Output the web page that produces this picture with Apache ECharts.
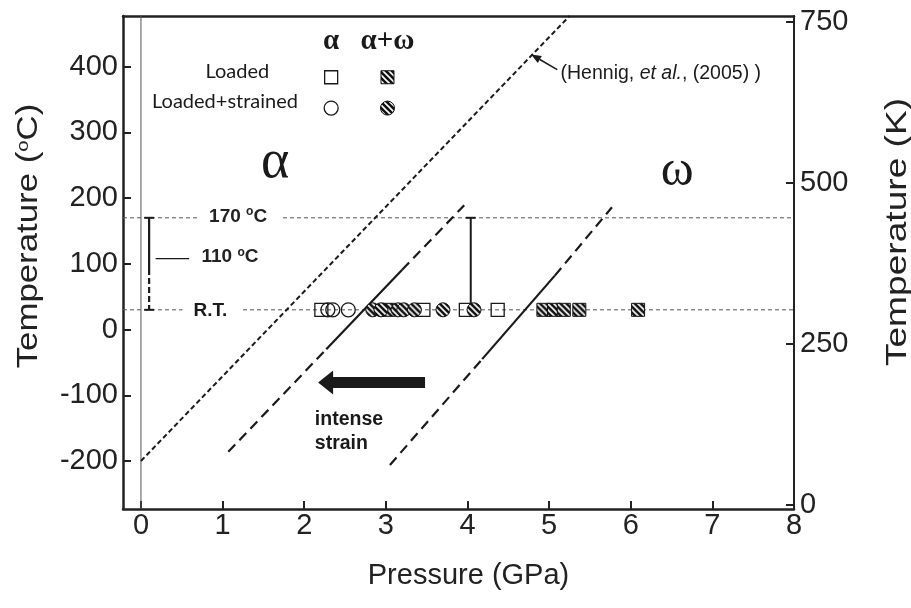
<!DOCTYPE html>
<html>
<head>
<meta charset="utf-8">
<script src="https://cdn.jsdelivr.net/npm/echarts@6/dist/echarts.min.js"></script>
<style>
  html, body { margin: 0; padding: 0; background: #fff; }
  #main { width: 911px; height: 608px; }
</style>
</head>
<body>
<div id="main"></div>
<script>
// axis ticks
var pressureTicks = [0, 1, 2, 3, 4, 5, 6, 7, 8]
var celsiusTicks = [-200, -100, 0, 100, 200, 300, 400]
var kelvinTicks = [0, 250, 500, 750]

var roomTemp = 30
var upperTemp = 170
var midTemp = 108

// measured pressures at R.T. (GPa)
var alphaLoaded = [2.21, 3.46, 3.98, 4.37]
var alphaStrained = [2.29, 2.35, 2.54]
var mixLoaded = [3.03, 4.93, 5.06, 5.18, 5.37, 6.09]
var mixStrained = [2.84, 2.94, 3.15, 3.22, 3.35, 3.70, 4.08]

// phase boundaries [P, T]
var hennigLine = [[0, -200], [5.25, 477]]
var midLow = [[1.07, -186], [2.27, -30]]
var midSolid = [[2.27, -30], [3.2, 91]]
var midHigh = [[3.2, 91], [3.96, 189]]
var rightLow = [[3.05, -206], [4.18, -45]]
var rightSolid = [[4.18, -45], [5.07, 82]]
var rightHigh = [[5.07, 82], [5.77, 186]]

// reference lines / bars
var zeroLine = [[0, -273], [0, 477]]
var upperLineA = [[-0.22, upperTemp], [0.71, upperTemp]]
var upperLineB = [[1.74, upperTemp], [8, upperTemp]]
var rtLineA = [[-0.22, roomTemp], [0.51, roomTemp]]
var rtLineB = [[1.25, roomTemp], [8, roomTemp]]
var leftBarSolid = [[0.1, upperTemp], [0.1, 92]]
var leftBarDash = [[0.1, 92], [0.1, roomTemp]]
var leftCapTop = [[0.04, upperTemp], [0.16, upperTemp]]
var leftCapBottom = [[0.04, roomTemp], [0.16, roomTemp]]
var pointer110 = [[0.18, midTemp], [0.59, midTemp]]
var rightBar = [[4.04, roomTemp], [4.04, upperTemp]]
var rightCap = [[3.98, upperTemp], [4.1, upperTemp]]

var myChart = echarts.init(document.getElementById('main'))

// hatched fill (black with white diagonal stripes)
function hatchCanvas() {
  var n = 6
  var c = document.createElement('canvas')
  c.width = n
  c.height = n
  var ctx = c.getContext('2d')
  ctx.fillStyle = '#111'
  ctx.fillRect(0, 0, n, n)
  ctx.strokeStyle = '#fff'
  ctx.lineWidth = 1.6
  ctx.beginPath()
  ctx.moveTo(-1, -1); ctx.lineTo(n + 1, n + 1)
  ctx.moveTo(-1, n - 1); ctx.lineTo(1, n + 1)
  ctx.moveTo(n - 1, -1); ctx.lineTo(n + 1, 1)
  ctx.stroke()
  return c
}
var hatchImg = hatchCanvas()
// symbols are drawn on a 2x2 path and scaled, so undo that scale
function hatch(size) {
  var s = size ? 2 / size : 1
  return { image: hatchImg, repeat: 'repeat', scaleX: s, scaleY: s }
}

function seg(data, type, width, color) {
  return {
    type: 'line',
    data: data,
    symbol: 'none',
    silent: true,
    z: 3,
    lineStyle: { type: type, width: width, color: color || '#1a1a1a' },
  }
}

function pts(arr) {
  return arr.map(function (p) { return [p, roomTemp] })
}

var font = 'Liberation Sans, Arial, sans-serif'
var serif = 'Liberation Serif, Times New Roman, serif'
var sqSize = 13
var ciSize = 14

var option = {
  animation: false,
  backgroundColor: '#fff',
  grid: { left: 123, right: 117, top: 16, bottom: 99 },
  xAxis: [
    {
      type: 'value',
      min: -0.22,
      max: 8,
      position: 'bottom',
      name: 'Pressure (GPa)',
      nameLocation: 'middle',
      nameGap: 52,
      nameTextStyle: { fontSize: 29, color: '#222', fontFamily: font, padding: [0, 0, 0, 20] },
      axisLine: { onZero: false, lineStyle: { color: '#222', width: 2.5 } },
      axisTick: { inside: true, length: 8, customValues: pressureTicks, lineStyle: { color: '#222', width: 2 } },
      axisLabel: { customValues: pressureTicks, fontSize: 29, color: '#222', margin: 2, fontFamily: font },
      splitLine: { show: false },
    },
    {
      type: 'value',
      min: -0.22,
      max: 8,
      position: 'top',
      axisLine: { onZero: false, lineStyle: { color: '#222', width: 2.5 } },
      axisTick: { show: false },
      axisLabel: { show: false },
      splitLine: { show: false },
    },
  ],
  yAxis: [
    {
      type: 'value',
      min: -273,
      max: 477,
      position: 'left',
      axisLine: { onZero: false, lineStyle: { color: '#222', width: 2.5 } },
      axisTick: { inside: true, length: 8, customValues: celsiusTicks, lineStyle: { color: '#222', width: 2 } },
      axisLabel: { customValues: celsiusTicks, fontSize: 29, color: '#222', margin: 5, fontFamily: font },
      splitLine: { show: false },
    },
    {
      type: 'value',
      min: -6,
      max: 759,
      position: 'right',
      axisLine: { onZero: false, lineStyle: { color: '#222', width: 2 } },
      axisTick: { inside: true, length: 8, customValues: kelvinTicks, lineStyle: { color: '#222', width: 2 } },
      axisLabel: { customValues: kelvinTicks, fontSize: 29, color: '#222', margin: 6, fontFamily: font },
      splitLine: { show: false },
    },
  ],
  series: [
    seg(zeroLine, 'solid', 1, '#555'),
    seg(upperLineA, [4, 3], 1, '#555'),
    seg(upperLineB, [4, 3], 1, '#555'),
    seg(rtLineA, [4, 3], 1, '#555'),
    seg(rtLineB, [4, 3], 1, '#555'),
    seg(hennigLine, [5, 3], 2),
    seg(midLow, [10, 6], 2.2),
    seg(midSolid, 'solid', 2.2),
    seg(midHigh, [10, 6], 2.2),
    seg(rightLow, [10, 6], 2.2),
    seg(rightSolid, 'solid', 2.2),
    seg(rightHigh, [10, 6], 2.2),
    seg(leftBarSolid, 'solid', 2.2),
    seg(leftBarDash, [6, 3], 2.2),
    seg(leftCapTop, 'solid', 2),
    seg(leftCapBottom, 'solid', 2),
    seg(pointer110, 'solid', 1.2),
    seg(rightBar, 'solid', 2),
    seg(rightCap, 'solid', 2),
    {
      type: 'scatter', name: 'alpha loaded', data: pts(alphaLoaded), symbol: 'rect', symbolSize: sqSize, z: 5,
      itemStyle: { color: 'rgba(255,255,255,0)', borderColor: '#1a1a1a', borderWidth: 1.3, opacity: 1 },
    },
    {
      type: 'scatter', name: 'alpha strained', data: pts(alphaStrained), symbol: 'circle', symbolSize: ciSize, z: 5,
      itemStyle: { color: 'rgba(255,255,255,0)', borderColor: '#1a1a1a', borderWidth: 1.3, opacity: 1 },
    },
    {
      type: 'scatter', name: 'mix loaded', data: pts(mixLoaded), symbol: 'rect', symbolSize: sqSize, z: 5,
      itemStyle: { color: hatch(sqSize), borderColor: '#111', borderWidth: 1, opacity: 1 },
    },
    {
      type: 'scatter', name: 'mix strained', data: pts(mixStrained), symbol: 'circle', symbolSize: ciSize, z: 5,
      itemStyle: { color: hatch(ciSize), borderColor: '#111', borderWidth: 1, opacity: 1 },
    },
  ],
}

myChart.setOption(option)

// annotations anchored in data space
function at(p, t) {
  return myChart.convertToPixel({ xAxisIndex: 0, yAxisIndex: 0 }, [p, t])
}
function txt(pos, text, fontStr, align, extra) {
  var st = { text: text, font: fontStr, fill: '#1a1a1a', align: align || 'center', verticalAlign: 'middle' }
  if (extra) for (var k in extra) st[k] = extra[k]
  return { type: 'text', x: pos[0], y: pos[1], style: st }
}
function arrowHead(tip, tail, len, half) {
  var dx = tail[0] - tip[0]
  var dy = tail[1] - tip[1]
  var d = Math.sqrt(dx * dx + dy * dy)
  var ux = dx / d
  var uy = dy / d
  var bx = tip[0] + ux * len
  var by = tip[1] + uy * len
  return [tip, [bx - uy * half, by + ux * half], [bx + uy * half, by - ux * half]]
}

var supRich = {
  b: { font: 'bold 19px ' + font, fill: '#222' },
  s: { font: 'bold 12px ' + font, fill: '#222', padding: [0, 0, 9, 0] },
}

var sqA = at(2.33, 383.8)
var sqB = at(3.02, 383.8)
var ciA = at(2.33, 336.9)
var ciB = at(3.02, 336.9)
var hTip = at(4.78, 418.5)
var hTail = at(5.10, 395.4)
var hHead = arrowHead(hTip, hTail, 10, 4)
var sTip = at(2.17, -80.5)
var sTail = at(3.48, -80.5)
var tx = sTip[0]
var ty = sTip[1]

var graphics = [
  // axis titles
  {
    type: 'text', x: 29, y: 236, rotation: Math.PI / 2, scaleX: 1.2,
    style: {
      text: '{n|Temperature (}{s|o}{n|C)}', align: 'center', verticalAlign: 'middle',
      rich: {
        n: { font: '29px ' + font, fill: '#222' },
        s: { font: '17px ' + font, fill: '#222', padding: [0, 0, 11, 0] },
      },
    },
  },
  {
    type: 'text', x: 898, y: 232, rotation: Math.PI / 2, scaleX: 1.28,
    style: { text: 'Temperature (K)', font: '29px ' + font, fill: '#222', align: 'center', verticalAlign: 'middle' },
  },
  // legend block
  txt(at(2.33, 438.5), 'α', 'bold 29px ' + serif),
  txt(at(3.02, 438.5), 'α+ω', 'bold 29px ' + serif),
  txt(at(1.18, 392), 'Loaded', '20px Lato, sans-serif'),
  txt(at(1.03, 347.6), 'Loaded+strained', '20px Lato, sans-serif'),
  { type: 'rect', shape: { x: sqA[0] - 6.5, y: sqA[1] - 6.5, width: 13, height: 13 }, style: { fill: '#fff', stroke: '#1a1a1a', lineWidth: 1.3 } },
  { type: 'rect', shape: { x: sqB[0] - 6.5, y: sqB[1] - 6.5, width: 13, height: 13 }, style: { fill: hatch(), stroke: '#111', lineWidth: 1 } },
  { type: 'circle', shape: { cx: ciA[0], cy: ciA[1], r: 7 }, style: { fill: '#fff', stroke: '#1a1a1a', lineWidth: 1.3 } },
  { type: 'circle', shape: { cx: ciB[0], cy: ciB[1], r: 7 }, style: { fill: hatch(), stroke: '#111', lineWidth: 1 } },
  // phase names
  txt(at(1.645, 253.7), 'α', '54px ' + serif),
  txt(at(6.57, 239.8), 'ω', '50px ' + serif),
  // Hennig note
  txt(at(5.14, 389.2), '{n|(Hennig, }{i|et al.}{n|, (2005) )}', '19.5px ' + font, 'left', {
    rich: {
      n: { font: '19.5px ' + font, fill: '#1a1a1a' },
      i: { font: 'italic 19.5px ' + font, fill: '#1a1a1a' },
    },
  }),
  { type: 'line', shape: { x1: hTail[0], y1: hTail[1], x2: (hHead[1][0] + hHead[2][0]) / 2, y2: (hHead[1][1] + hHead[2][1]) / 2 }, style: { stroke: '#1a1a1a', lineWidth: 1.5 } },
  { type: 'polygon', shape: { points: hHead }, style: { fill: '#1a1a1a' } },
  // temperature labels
  txt(at(1.19, 172), '{b|170 }{s|o}{b|C}', 'bold 19px ' + font, 'center', { rich: supRich }),
  txt(at(1.09, 110.5), '{b|110 }{s|o}{b|C}', 'bold 19px ' + font, 'center', { rich: supRich }),
  txt(at(0.85, 28.8), 'R.T.', 'bold 19px ' + font),
  // strain arrow
  {
    type: 'polygon',
    shape: {
      points: [
        [sTail[0], ty - 5.5], [tx + 15, ty - 5.5], [tx + 15, ty - 12], [tx, ty],
        [tx + 15, ty + 12], [tx + 15, ty + 5.5], [sTail[0], ty + 5.5],
      ],
    },
    style: { fill: '#1a1a1a' },
  },
  txt(at(2.13, -137.5), 'intense', 'bold 19.5px ' + font, 'left'),
  txt(at(2.13, -172.9), 'strain', 'bold 19.5px ' + font, 'left'),
]

myChart.setOption({ graphic: graphics })
</script>
</body>
</html>
